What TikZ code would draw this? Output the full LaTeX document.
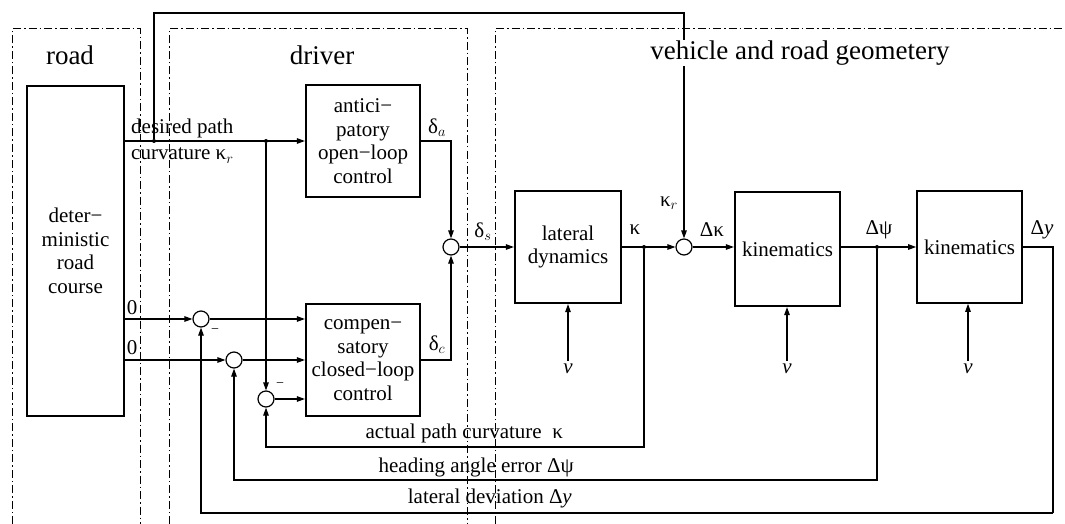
\documentclass[tikz,border=0pt]{standalone}
\usepackage{fontspec}
\setmainfont{Liberation Serif}
\usetikzlibrary{arrows.meta}
\begin{document}
\begin{tikzpicture}[x=1pt,y=-1pt,
  blk/.style={draw, line width=2.2pt, inner sep=0pt, align=center, font=\fontsize{21}{23.5}\selectfont},
  sumc/.style={draw, circle, minimum size=16pt, inner sep=0pt, line width=1.2pt},
  con/.style={line width=1.2pt},
  arr/.style={con, -{Triangle[length=8pt,width=5.5pt]}},
  zone/.style={line width=1pt, dash pattern=on 8pt off 3pt on 1.5pt off 3pt},
  lbl/.style={font=\fontsize{21}{23}\selectfont, inner sep=0pt},
  hdr/.style={font=\fontsize{27}{30}\selectfont, inner sep=1pt},
  dot/.style={circle, fill, inner sep=0pt, minimum size=4pt}]
\useasboundingbox (0,0) rectangle (1065,524);
% zones
\draw[zone] (12,524) -- (12,29) -- (140,29) -- (140,524);
\draw[zone] (169,524) -- (169,29) -- (467,29) -- (467,524);
\draw[zone] (495,524) -- (495,29) -- (1065,29);
% blocks
\node[blk, line width=1.6pt, minimum width=97pt, minimum height=330pt] (road) at (75.5,251) {deter−\\ministic\\road\\course};
\node[blk, minimum width=114pt, minimum height=112pt] (ant) at (363,141) {antici−\\patory\\open−loop\\control};
\node[blk, minimum width=114pt, minimum height=112pt] (comp) at (363,360) {compen−\\satory\\closed−loop\\control};
\node[blk, minimum width=106pt, minimum height=112pt] (lat) at (568,247) {lateral\\dynamics};
\node[blk, minimum width=105pt, minimum height=114pt] (kin1) at (787.5,249) {kinematics};
\node[blk, line width=1.6pt, minimum width=105pt, minimum height=112pt] (kin2) at (969.5,247) {kinematics};
% summing points
\node[sumc] (C1) at (201,319) {};
\node[sumc] (C2) at (234,360) {};
\node[sumc] (C3) at (266,399) {};
\node[sumc] (Cs) at (451,247) {};
\node[sumc] (C4) at (684,247) {};
% branch points
\node[dot] (d1) at (154,141) {};
\node[dot] (d2) at (266,141) {};
\node[dot] (d3) at (644,247) {};
\node[dot] (d4) at (877,247) {};
\coordinate (tl) at (154,13);
\coordinate (b1) at (644,447);
\coordinate (b2) at (877,480);
\coordinate (b3a) at (1053,247);
\coordinate (b3) at (1053,513);
% speed inputs
\node[lbl, inner sep=3pt] (v1) at (568,369) {\itshape v};
\node[lbl, inner sep=3pt] (v2) at (787,369) {\itshape v};
\node[lbl, inner sep=3pt] (v3) at (968,369) {\itshape v};
% connectors
\draw[arr] (road.east |- ant.west) -- (ant.west);
\draw[arr] (d1) -- (tl) -| (C4);
\draw[arr] (d2) -- (C3);
\draw[arr] (ant.east) -| (Cs);
\draw[arr] (comp.east) -| (Cs);
\draw[arr] (Cs) -- (lat);
\draw[arr] (lat) -- (C4);
\draw[arr] (C4) -- (C4 -| kin1.west);
\draw[arr] (kin1.east |- C4) -- (kin2.west |- C4);
\draw[con] (kin2.east |- C4) -- (b3a) -- (b3);
\draw[arr] (b3) -| (C1);
\draw[arr] (d3) -- (b1) -| (C3);
\draw[arr] (d4) -- (b2) -| (C2);
\draw[arr] (road.east |- C1) -- (C1);
\draw[arr] (road.east |- C2) -- (C2);
\draw[arr] (C1) -- (C1 -| comp.west);
\draw[arr] (C2) -- (C2 -| comp.west);
\draw[arr] (C3) -- (C3 -| comp.west);
\draw[arr] (v1) -- (lat.south);
\draw[arr] (v2) -- (v2 |- kin1.south);
\draw[arr] (v3) -- (v3 |- kin2.south);
% headers
\node[hdr] (hroad) at (70,55) {road};
\node[hdr] (hdrv) at (322,55) {driver};
\node[hdr, fill=white] (hveh) at (800,53) {vehicle and road geometery};
% labels
\node[lbl, anchor=base west] (ldp) at (131,133) {desired path};
\node[lbl, anchor=base west] (lcv) at (131,160) {curvature κ$_r$};
\node[lbl] (l0a) at (132,308) {0};
\node[lbl] (l0b) at (132,348) {0};
\node[lbl, font=\fontsize{14}{14}\selectfont] (m1) at (215,331) {−};
\node[lbl, font=\fontsize{14}{14}\selectfont] (m3) at (280,385) {−};
\node[lbl] (lda) at (437,128) {δ$_a$};
\node[lbl] (ldc) at (437,345) {δ$_c$};
\node[lbl] (lds) at (483,232) {δ$_s$};
\node[lbl] (lk) at (635,230) {κ};
\node[lbl] (lkr) at (669,203) {κ$_r$};
\node[lbl] (ldk) at (712,230) {Δκ};
\node[lbl] (ldpsi) at (879,230) {Δψ};
\node[lbl] (ldy) at (1042,230) {Δ\textit{y}};
\node[lbl, anchor=east] (lapc) at (563,433) {actual path curvature\ \ κ};
\node[lbl, anchor=east] (lhae) at (574,467) {heading angle error Δψ};
\node[lbl, anchor=east] (lld) at (572,498) {lateral deviation Δ\textit{y}};
\end{tikzpicture}
\end{document}
